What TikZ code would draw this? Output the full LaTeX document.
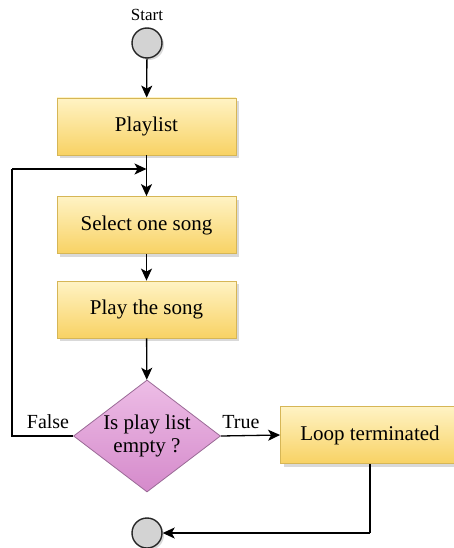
\documentclass[tikz,border=0pt]{standalone}
\usepackage{fontspec}
\setmainfont{Liberation Serif}
\usetikzlibrary{shapes.geometric,shadows,arrows.meta}
\definecolor{boxtop}{HTML}{FFF3C4}
\definecolor{boxbot}{HTML}{F8D264}
\definecolor{boxline}{HTML}{D6B656}
\definecolor{dtop}{HTML}{EDBDE6}
\definecolor{dbot}{HTML}{D58ACB}
\definecolor{dline}{HTML}{9A6A96}
\definecolor{circfill}{HTML}{D3D3D3}
\tikzset{
  procbox/.style={draw=boxline, line width=0.8pt, top color=boxtop, bottom color=boxbot,
    minimum width=179pt, minimum height=57pt, inner sep=0pt,
    font=\fontsize{21}{23}\selectfont, text=black,
    drop shadow={shadow xshift=3pt, shadow yshift=-3pt, fill=black!25, opacity=0.6}},
  decbox/.style={diamond, draw=dline, line width=0.8pt, top color=dtop, bottom color=dbot,
    minimum width=147pt, minimum height=112pt, inner sep=0pt, aspect=1.31, align=center,
    font=\fontsize{21}{23}\selectfont, text=black},
  termc/.style={circle, draw=black!85, line width=1.4pt, fill=circfill, minimum size=30pt, inner sep=0pt,
    drop shadow={shadow xshift=2pt, shadow yshift=-2pt, fill=black!25, opacity=0.6}},
  lbl/.style={font=\fontsize{20}{22}\selectfont, text=black, inner sep=0pt},
  conn/.style={line width=1.3pt, -{Stealth[length=12pt,width=11pt,inset=3pt]}},
  plain/.style={line width=1.3pt}
}
\begin{document}
\begin{tikzpicture}[x=1pt,y=-1pt]
\useasboundingbox (0,0) rectangle (454,548);
\clip (0,0) rectangle (454,548);
\node[lbl, font=\fontsize{17}{19}\selectfont] (startlbl) at (147,15) {Start};
\node[termc] (start) at (147,43) {};
\node[procbox] (playlist) at (146.5,126.5) {Playlist};
\node[procbox] (select) at (146.5,225) {Select one song};
\node[procbox] (play) at (146.5,309.5) {Play the song};
\node[decbox] (dec) at (147,436) {Is play list\\empty ?};
\node[procbox] (loop) at (370,435) {Loop terminated};
\node[termc] (end) at (147,533) {};
\node[lbl] (false) at (48,422) {False};
\node[lbl] (true) at (241,422) {True};
\coordinate (join) at (146.5,169);
\coordinate (lefttop) at (12,169);
\coordinate (leftbot) at (12,436);
\coordinate (corner) at (370,533);
\draw[conn] (start) -- (playlist);
\draw[conn] (playlist) -- (select);
\draw[conn] (select) -- (play);
\draw[conn] (play) -- (dec);
\draw[plain] (dec.west) -- (leftbot) -- (lefttop);
\draw[conn] (lefttop) -- (join);
\draw[conn] (dec.east) -- (loop.west);
\draw[plain] (loop.south) -- (corner);
\draw[conn] (corner) -- (end.east);
\end{tikzpicture}
\end{document}
